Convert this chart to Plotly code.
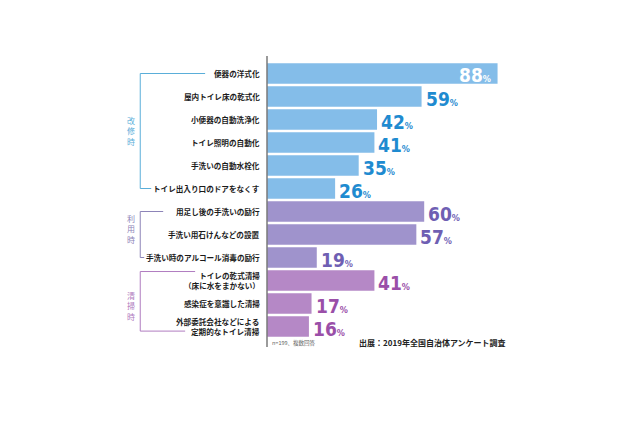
import plotly.graph_objects as go

categories = [
    "便器の洋式化",
    "屋内トイレ床の乾式化",
    "小便器の自動洗浄化",
    "トイレ照明の自動化",
    "手洗いの自動水栓化",
    "トイレ出入り口のドアをなくす",
    "用足し後の手洗いの励行",
    "手洗い用石けんなどの設置",
    "手洗い時のアルコール消毒の励行",
    "トイレの乾式清掃<br>（床に水をまかない）",
    "感染症を意識した清掃",
    "外部委託会社などによる<br>定期的なトイレ清掃",
]
values = [88, 59, 42, 41, 35, 26, 60, 57, 19, 41, 17, 16]
groups = ["改修時"] * 6 + ["利用時"] * 3 + ["清掃時"] * 3

group_names = ["改修時", "利用時", "清掃時"]
bar_colors = {"改修時": "#84bde9", "利用時": "#9f93cc", "清掃時": "#b588c6"}
text_colors = {"改修時": "#1f8bd0", "利用時": "#6f5fb3", "清掃時": "#9a4fa8"}
group_label_colors = {"改修時": "#5aaed9", "利用時": "#8d84b8", "清掃時": "#b07cc0"}
bracket_colors = {"改修時": "#5aaed9", "利用時": "#8d84b8", "清掃時": "#b07cc0"}

footnote_n = "n=199、複数回答"
source_text = "出展：2019年全国自治体アンケート調査"

idx = list(range(len(categories)))

fig = go.Figure()
fig.add_trace(go.Bar(
    x=values, y=idx, orientation="h",
    marker=dict(color=[bar_colors[g] for g in groups], line=dict(width=0)),
    hoverinfo="skip",
))

W, H = 640, 426
L, R, T, B = 267, 640 - 267 - 262.5, 62, 88
plot_w = W - L - R
plot_h = H - T - B

def px_x(p):
    return (p - L) / plot_w

def px_y(p):
    return (H - B - p) / plot_h

annotations = []
num_font = "DejaVu Sans Condensed, Liberation Sans Narrow, Arial Narrow, sans-serif"
for i, (c, v, g) in enumerate(zip(categories, values, groups)):
    annotations.append(dict(
        x=0, y=i, xref="x", yref="y", text=c, showarrow=False,
        xanchor="right", align="right", xshift=-5,
        font=dict(family="Noto Sans CJK JP", size=7.6, color="#1a1a1a", weight="bold"),
    ))
    txt = f"{v}<span style='font-size:9px'>%</span>"
    if v >= 80:
        annotations.append(dict(
            x=v, y=i, xref="x", yref="y", text=txt, showarrow=False,
            xanchor="right", xshift=-5, yshift=-1,
            font=dict(family=num_font, size=19, color="white", weight="bold"),
        ))
    else:
        annotations.append(dict(
            x=v, y=i, xref="x", yref="y", text=txt, showarrow=False,
            xanchor="left", xshift=2, yshift=-2,
            font=dict(family=num_font, size=19, color=text_colors[g], weight="bold"),
        ))

group_centers = {"改修時": 2.5, "利用時": 6.75, "清掃時": 10.1}
for g in group_names:
    annotations.append(dict(
        x=px_x(131), y=group_centers[g], xref="paper", yref="y",
        text="<br>".join(list(g)),
        showarrow=False, xanchor="center", yanchor="middle", align="center",
        font=dict(family="Noto Sans CJK JP", size=8, color=group_label_colors[g]),
    ))

annotations.append(dict(
    x=px_x(270), y=px_y(343), xref="paper", yref="paper", text=footnote_n,
    showarrow=False, xanchor="left", yanchor="middle",
    font=dict(family="Noto Sans CJK JP", size=5.5, color="#666666"),
))
annotations.append(dict(
    x=px_x(357), y=px_y(342), xref="paper", yref="paper", text=source_text,
    showarrow=False, xanchor="left", yanchor="middle",
    font=dict(family="Noto Sans CJK JP", size=8, color="#222222", weight="bold"),
))

shapes = []
shapes.append(dict(type="line", xref="paper", yref="paper",
                   x0=px_x(267), x1=px_x(267), y0=px_y(56), y1=px_y(347),
                   line=dict(color="#7a7a7a", width=1.5)))
brackets = [
    ("改修時", 0, 5, 205, 151),
    ("利用時", 6, 8, 163, 144),
    ("清掃時", 9 - 0.39, 11 + 0.2, 195, 185),
]
bx = px_x(140)
for g, y0, y1, e0, e1 in brackets:
    col = bracket_colors[g]
    shapes.append(dict(type="line", xref="paper", yref="y", x0=bx, x1=bx, y0=y0, y1=y1,
                       line=dict(color=col, width=1)))
    shapes.append(dict(type="line", xref="paper", yref="y", x0=bx, x1=px_x(e0), y0=y0, y1=y0,
                       line=dict(color=col, width=1)))
    shapes.append(dict(type="line", xref="paper", yref="y", x0=bx, x1=px_x(e1), y0=y1, y1=y1,
                       line=dict(color=col, width=1)))

fig.update_layout(
    width=W, height=H,
    margin=dict(l=L, r=R, t=T, b=B, pad=0),
    paper_bgcolor="white", plot_bgcolor="white",
    showlegend=False, bargap=0.11,
    xaxis=dict(range=[0, 100], visible=False, fixedrange=True),
    yaxis=dict(range=[11.5, -0.5], visible=False, fixedrange=True),
    annotations=annotations, shapes=shapes,
)

fig.write_html("out.html")
